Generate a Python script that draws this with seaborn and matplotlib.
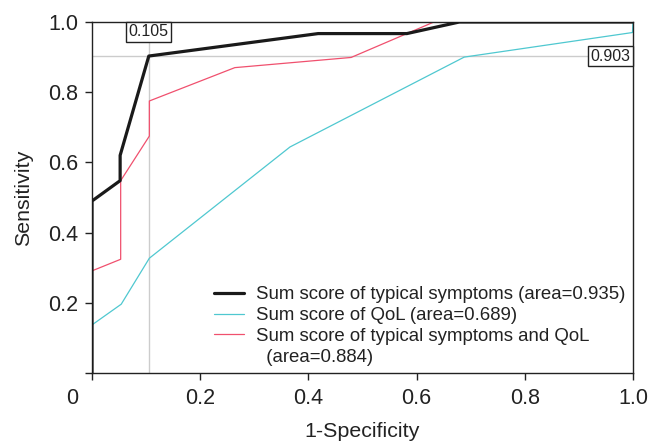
import matplotlib
matplotlib.use("Agg")
import matplotlib.pyplot as plt
import seaborn as sns
import pandas as pd
from matplotlib.lines import Line2D

sns.set_theme(style="ticks")
plt.rcParams['font.family'] = ['Liberation Sans', 'DejaVu Sans']

# ROC data (1-specificity, sensitivity)
sym_x = [0.0, 0.0, 0.052, 0.052, 0.105, 0.418, 0.582, 0.679, 1.0]
sym_y = [0.0, 0.49, 0.548, 0.62, 0.903, 0.967, 0.967, 1.0, 1.0]

qol_x = [0.0, 0.0, 0.054, 0.106, 0.366, 0.688, 0.999, 1.0]
qol_y = [0.0, 0.137, 0.196, 0.327, 0.644, 0.900, 0.970, 1.0]

both_x = [0.0, 0.0, 0.053, 0.053, 0.106, 0.106, 0.264, 0.479, 0.632, 1.0]
both_y = [0.0, 0.291, 0.324, 0.548, 0.675, 0.775, 0.870, 0.899, 1.0, 1.0]

labels = ["Sum score of typical symptoms (area=0.935)",
          "Sum score of QoL (area=0.689)",
          "Sum score of typical symptoms and QoL"]
extra_label = "  (area=0.884)"
cut_x = 0.105
cut_y = 0.903
xticks = [0, 0.2, 0.4, 0.6, 0.8, 1.0]
xticklabels = ["", "0.2", "0.4", "0.6", "0.8", "1.0"]
yticks = [0, 0.2, 0.4, 0.6, 0.8, 1.0]
yticklabels = ["", "0.2", "0.4", "0.6", "0.8", "1.0"]

colors = ["#1a1a1a", "#4fc8d0", "#f0506e"]
widths = [2.3, 0.9, 0.9]

fig = plt.figure(figsize=(6.49, 4.42), dpi=100)
ax = fig.add_axes([92/649, 1-373/442, (633-92)/649, (373-22)/442])

ax.axvline(cut_x, color="#cccccc", lw=1.0, zorder=1)
ax.axhline(cut_y, color="#cccccc", lw=1.0, zorder=1)

series = [(sym_x, sym_y), (qol_x, qol_y), (both_x, both_y)]
order = [1, 2, 0]
for i in order:
    xs, ys = series[i]
    df = pd.DataFrame({"x": xs, "y": ys})
    sns.lineplot(data=df, x="x", y="y", sort=False, estimator=None,
                 color=colors[i], lw=widths[i], ax=ax, zorder=3 if i == 0 else 2)

ax.set_xlim(0, 1.0)
ax.set_ylim(0, 1.0)
ax.set_xticks(xticks)
ax.set_xticklabels(xticklabels)
ax.set_yticks(yticks)
ax.set_yticklabels(yticklabels)
ax.tick_params(axis="both", direction="out", length=5, width=1.0, labelsize=15.5,
               colors="#222222", labelcolor="#222222")
ax.tick_params(axis="x", pad=6)
ax.tick_params(axis="y", pad=5)
for s in ax.spines.values():
    s.set_color("#222222")
    s.set_linewidth(1.0)

ax.text(-0.037, -0.072, "0", transform=ax.transAxes, ha="center", va="center",
        fontsize=15.5, color="#222222")

ax.set_xlabel("1-Specificity", fontsize=15.4, color="#222222", labelpad=9)
ax.set_ylabel("Sensitivity", fontsize=15.4, color="#222222", labelpad=11)

box = dict(boxstyle="square,pad=0.15", fc="white", ec="#222222", lw=1.0)
ax.text(cut_x, 0.972, f"{cut_x:.3f}", ha="center", va="center", fontsize=11.5,
        color="#222222", bbox=box, zorder=5)
ax.text(0.995, cut_y, f"{cut_y:.3f}", ha="right", va="center", fontsize=11.5,
        color="#222222", bbox=box, zorder=5)

handles = [Line2D([], [], color=colors[0], lw=widths[0]),
           Line2D([], [], color=colors[1], lw=widths[1]),
           Line2D([], [], color=colors[2], lw=widths[2]),
           Line2D([], [], color="none", lw=0)]
leg = ax.legend(handles, labels + [extra_label], loc="lower right",
                bbox_to_anchor=(1.0, 0.0), frameon=False, fontsize=13.4,
                handlelength=1.6, handletextpad=0.65, labelspacing=0.2,
                borderaxespad=0.0)
for t in leg.get_texts():
    t.set_color("#222222")

fig.savefig("out.png", dpi=100)
